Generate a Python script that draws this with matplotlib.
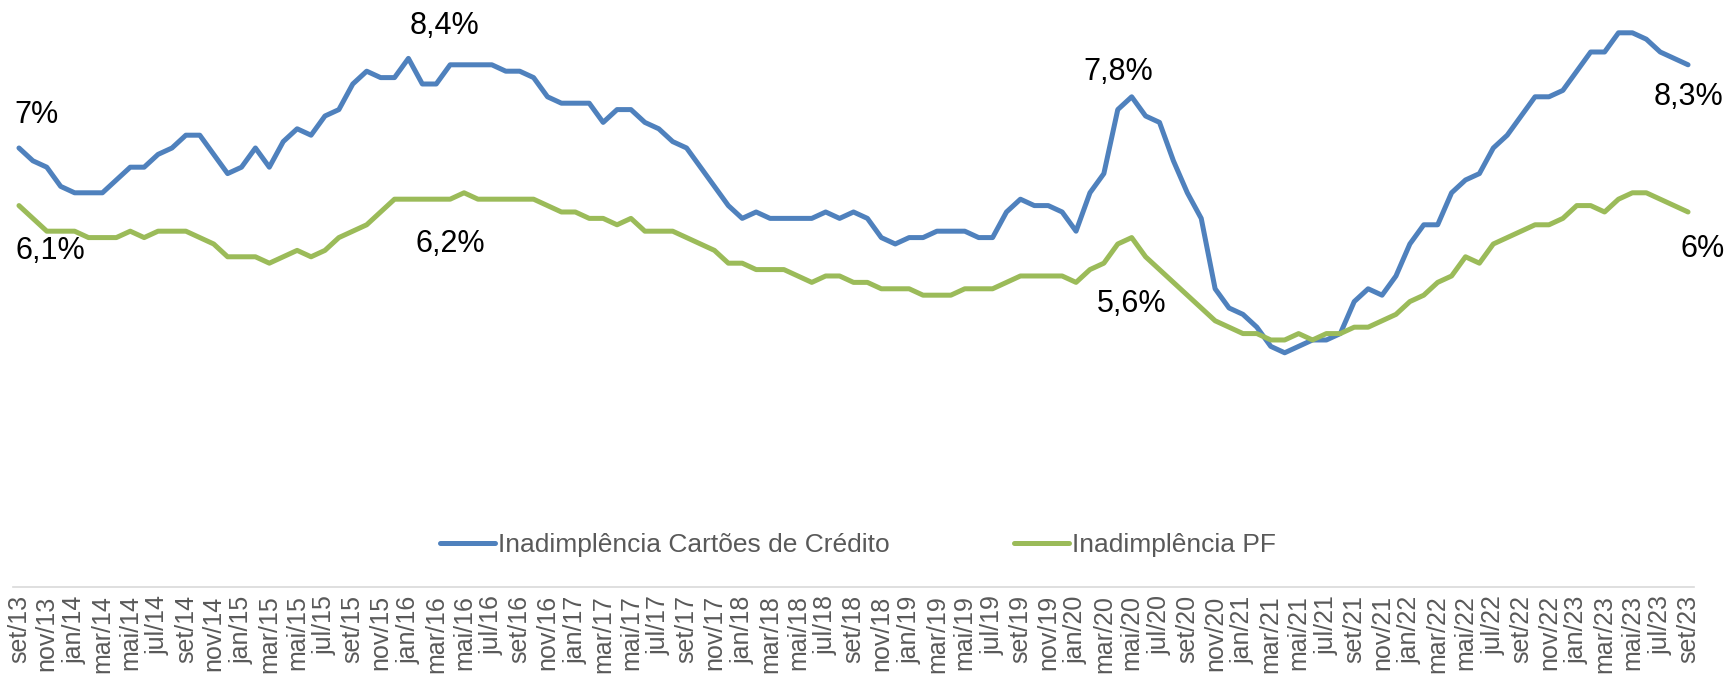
import numpy as np
import matplotlib
matplotlib.use('agg')
from matplotlib import pyplot as plt

# inadimplencia mensal (%), set/13 .. set/23
cartoes = [7.0, 6.8, 6.7, 6.4, 6.3, 6.3, 6.3, 6.5, 6.7, 6.7, 6.9, 7.0, 7.2, 7.2, 6.9, 6.6, 6.7, 7.0, 6.7, 7.1, 7.3,
           7.2, 7.5, 7.6, 8.0, 8.2, 8.1, 8.1, 8.4, 8.0, 8.0, 8.3, 8.3, 8.3, 8.3, 8.2, 8.2, 8.1, 7.8, 7.7, 7.7, 7.7,
           7.4, 7.6, 7.6, 7.4, 7.3, 7.1, 7.0, 6.7, 6.4, 6.1, 5.9, 6.0, 5.9, 5.9, 5.9, 5.9, 6.0, 5.9, 6.0, 5.9, 5.6,
           5.5, 5.6, 5.6, 5.7, 5.7, 5.7, 5.6, 5.6, 6.0, 6.2, 6.1, 6.1, 6.0, 5.7, 6.3, 6.6, 7.6, 7.8, 7.5, 7.4,
           6.8, 6.3, 5.9, 4.8, 4.5, 4.4, 4.2, 3.9, 3.8, 3.9, 4.0, 4.0, 4.1, 4.6, 4.8, 4.7, 5.0, 5.5, 5.8, 5.8, 6.3,
           6.5, 6.6, 7.0, 7.2, 7.5, 7.8, 7.8, 7.9, 8.2, 8.5, 8.5, 8.8, 8.8, 8.7, 8.5, 8.4, 8.3]
pf = [6.1, 5.9, 5.7, 5.7, 5.7, 5.6, 5.6, 5.6, 5.7, 5.6, 5.7, 5.7, 5.7, 5.6, 5.5, 5.3, 5.3, 5.3, 5.2, 5.3, 5.4,
      5.3, 5.4, 5.6, 5.7, 5.8, 6.0, 6.2, 6.2, 6.2, 6.2, 6.2, 6.3, 6.2, 6.2, 6.2, 6.2, 6.2, 6.1, 6.0, 6.0, 5.9,
      5.9, 5.8, 5.9, 5.7, 5.7, 5.7, 5.6, 5.5, 5.4, 5.2, 5.2, 5.1, 5.1, 5.1, 5.0, 4.9, 5.0, 5.0, 4.9, 4.9, 4.8,
      4.8, 4.8, 4.7, 4.7, 4.7, 4.8, 4.8, 4.8, 4.9, 5.0, 5.0, 5.0, 5.0, 4.9, 5.1, 5.2, 5.5, 5.6, 5.3, 5.1,
      4.9, 4.7, 4.5, 4.3, 4.2, 4.1, 4.1, 4.0, 4.0, 4.1, 4.0, 4.1, 4.1, 4.2, 4.2, 4.3, 4.4, 4.6, 4.7, 4.9, 5.0,
      5.3, 5.2, 5.5, 5.6, 5.7, 5.8, 5.8, 5.9, 6.1, 6.1, 6.0, 6.2, 6.3, 6.3, 6.2, 6.1, 6.0]

meses = ['jan', 'fev', 'mar', 'abr', 'mai', 'jun', 'jul', 'ago', 'set', 'out', 'nov', 'dez']
periodos = [f"{meses[(8 + k) % 12]}/{13 + (8 + k) // 12}" for k in range(len(cartoes))]

nomes = ['Inadimplência Cartões de Crédito', 'Inadimplência PF']
cores = ['#4F81BD', '#9BBB59']

# rotulos de dados: (serie, indice, deslocamento em px)
rotulos = [(0, 0, (18, 33)), (1, 0, (31, -45)),
           (0, 28, (36, 32)), (1, 31, (0, -45)),
           (0, 80, (-13, 25)), (1, 80, (0, -66)),
           (0, 120, (0, -32)), (1, 120, (15, -37))]

plt.rcParams['font.family'] = ['Liberation Sans', 'DejaVu Sans']

W, H = 1729, 683
fig = plt.figure(figsize=(W / 100, H / 100), dpi=100)
ax = fig.add_axes([13.4 / W, 96 / H, (1693.6 - 13.4) / W, 567 / H])

x = np.arange(len(cartoes))
series = [cartoes, pf]
for s, nome, cor in zip(series, nomes, cores):
    ax.plot(x, s, color=cor, lw=3.6, label=nome,
            solid_capstyle='round', solid_joinstyle='round')

for k, i, (dx, dy) in rotulos:
    v = series[k][i]
    txt = f"{v:.1f}".replace('.', ',').replace(',0', '') + '%'
    ax.annotate(txt, xy=(i, v), xytext=(dx, dy), textcoords='offset pixels',
                ha='center', va='center', fontsize=22, color='black')

ax.set_xlim(-0.4, len(cartoes) - 0.6)
ax.set_ylim(0.14, 9)
ax.set_xticks(x[::2])
ax.set_xticklabels(periodos[::2], rotation=90, fontsize=18, color='#595959')
ax.tick_params(axis='x', length=0, pad=6)
ax.set_yticks([])
for lado in ['top', 'left', 'right']:
    ax.spines[lado].set_visible(False)
ax.spines['bottom'].set_color('#D9D9D9')
ax.spines['bottom'].set_linewidth(1.2)

leg = fig.legend(loc='center', bbox_to_anchor=(858 / W, 1 - 545 / H), ncol=2, frameon=False,
                 fontsize=19, handlelength=2.08, handletextpad=0.12, columnspacing=4.7)
for t in leg.get_texts():
    t.set_color('#595959')

fig.savefig('out.png', dpi=100)
